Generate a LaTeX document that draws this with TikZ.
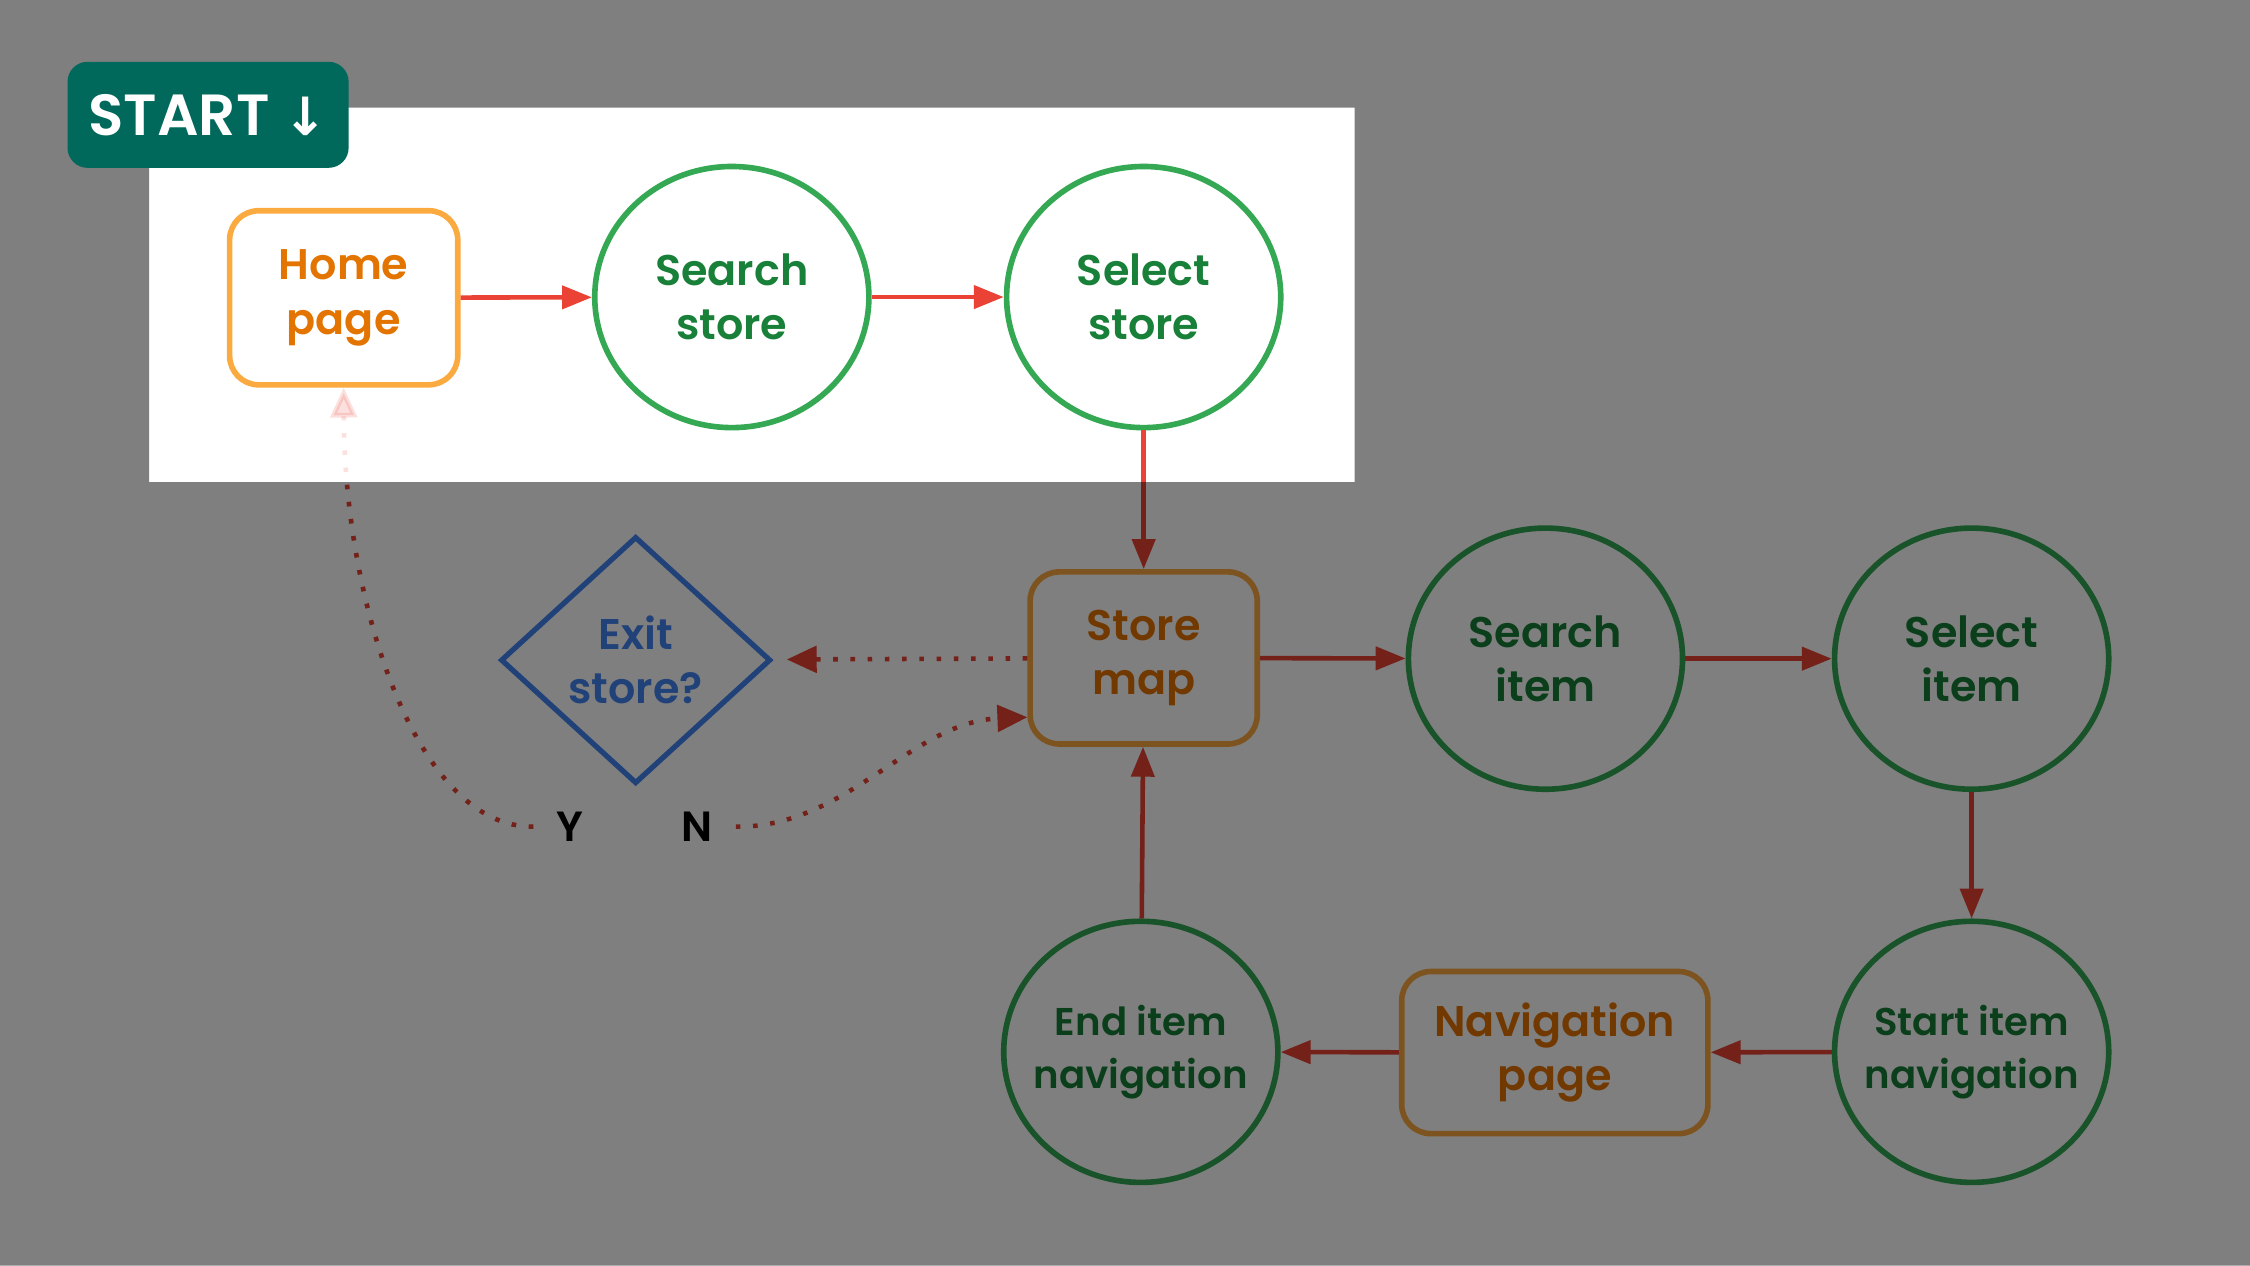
\documentclass[tikz,border=0pt]{standalone}
\usepackage{fontspec}
\setmainfont{Poppins}[BoldFont={Poppins SemiBold}]
\newfontfamily\arrowfont{DejaVu Sans}
\usetikzlibrary{shapes.geometric,arrows.meta}

\definecolor{boxorange}{HTML}{FBAA40}
\definecolor{boxtext}{HTML}{E37400}
\definecolor{stepgreen}{HTML}{34A853}
\definecolor{steptext}{HTML}{188038}
\definecolor{flowred}{HTML}{EA4335}
\definecolor{exitblue}{HTML}{4285F4}
\definecolor{startteal}{HTML}{00695C}

\begin{document}
\begin{tikzpicture}[x=0.01435cm, y=-0.01435cm,
    labelfont/.style={font=\bfseries\fontsize{12.2}{15.5}\selectfont, align=center},
    smalllabel/.style={font=\bfseries\fontsize{11}{15}\selectfont},
    roundbox/.style={labelfont, draw=boxorange, text=boxtext, line width=1.6pt, rounded corners=0.29cm},
    bubble/.style={labelfont, ellipse, draw=stepgreen, text=steptext, line width=1.6pt, minimum width=2.74cm, minimum height=2.61cm, inner sep=-0.3cm},
    decision/.style={labelfont, diamond, draw=exitblue, text=exitblue, line width=1.5pt, minimum width=2.70cm, minimum height=2.47cm, inner sep=0pt},
    answer/.style={font=\bfseries\fontsize{12}{13}\selectfont, text=black},
    startbadge/.style={fill=startteal, text=white, rounded corners=0.2cm, minimum width=2.81cm, minimum height=1.06cm, font=\bfseries\fontsize{16.5}{20}\selectfont},
    dotflow/.style={draw=flowred, line width=1.3pt, dash pattern=on 1.3pt off 3.6pt, -{Triangle[length=8.5pt,width=7.5pt]}}]
    \useasboundingbox (0,0) rectangle (1568,882);
    \fill[white] (0,0) rectangle (1568,882);

    % nodes
    \begin{scope}
        \node[roundbox, minimum width=2.28cm, minimum height=1.74cm] (home) at (239.5,207.5) {Home\\page};
        \node[bubble] (searchstore) at (510,207) {Search\\store};
        \node[bubble] (selectstore) at (797,207) {Select\\store};

        \node[roundbox, minimum width=2.27cm, minimum height=1.72cm] (storemap) at (797,458.5) {Store\\map};
        \node[bubble] (searchitem) at (1077,459) {Search\\item};
        \node[bubble] (selectitem) at (1374,459) {Select\\item};

        \node[bubble, smalllabel] (startnav) at (1374,733) {Start item\\navigation};
        \node[roundbox, minimum width=3.06cm, minimum height=1.62cm] (navpage) at (1083.5,733.5) {Navigation\\page};
        \node[bubble, smalllabel] (endnav) at (795,733) {End item\\navigation};

        \node[decision] (exit) at (443,460) {Exit\\store?};
        \node[answer] (yes) at (397,576) {Y};
        \node[answer] (no) at (486,576) {N};
    \end{scope}

    % connectors
    \begin{scope}[every edge/.style={draw=flowred, line width=1.3pt, -{Triangle[length=8.5pt,width=6.5pt]}}]
        \path (home) edge (searchstore);
        \path (searchstore) edge (selectstore);
        \path (selectstore) edge (storemap);
        \path (storemap) edge (searchitem);
        \path (searchitem) edge (selectitem);
        \path (selectitem) edge (startnav);
        \path (startnav) edge (navpage);
        \path (navpage) edge (endnav);
        \path (endnav) edge (storemap);
    \end{scope}

    \path (storemap) edge[dotflow, shorten >=4pt] (exit);
    \draw[dotflow, shorten <=3pt] (no.east) .. controls (590,577) and (635,503) .. (storemap.207);
    \draw[dotflow, opacity=0.16, shorten <=3pt] (yes.west) .. controls (290,577) and (240,420) .. (home.south);
    \begin{scope}
        \clip (0,336) rectangle (1568,882);
        \draw[dotflow, shorten <=3pt] (yes.west) .. controls (290,577) and (240,420) .. (home.south);
    \end{scope}

    % dim everything outside the highlight
    \fill[black, opacity=0.5, even odd rule] (0,0) rectangle (1568,882) (104,75) rectangle (944,336);

    \node[startbadge] (start) at (145,80) {START {\arrowfont\fontsize{15}{20}\selectfont ↓}};
\end{tikzpicture}
\end{document}
